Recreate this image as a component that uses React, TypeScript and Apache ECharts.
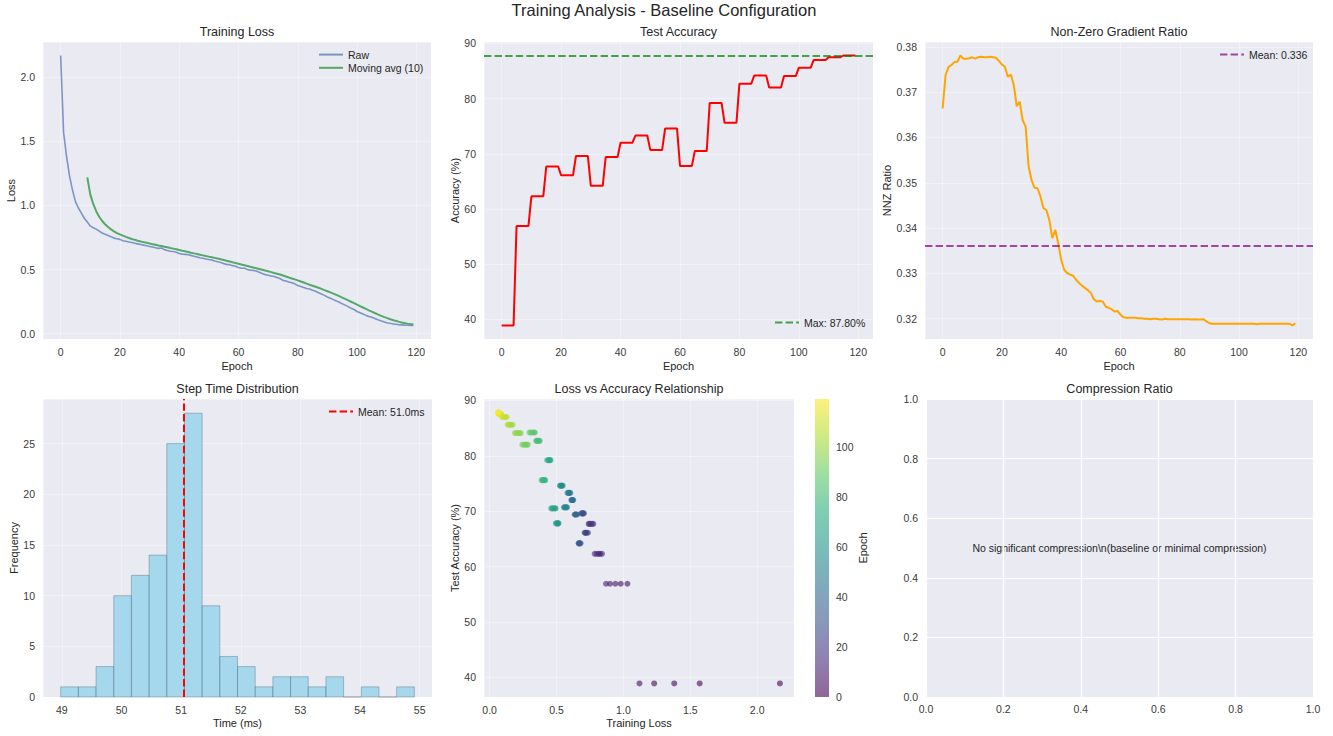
import React, { useEffect, useRef } from "react";
import * as echarts from "echarts";

// ---------------- data ----------------
const figureTitle = "Training Analysis - Baseline Configuration";
const panelTitles = [
  "Training Loss",
  "Test Accuracy",
  "Non-Zero Gradient Ratio",
  "Step Time Distribution",
  "Loss vs Accuracy Relationship",
  "Compression Ratio",
];

const rawLoss = [
  2.17, 1.57, 1.38, 1.23, 1.12, 1.03, 0.98, 0.94, 0.9, 0.87,
  0.84, 0.825, 0.815, 0.8, 0.785, 0.775, 0.765, 0.755, 0.745, 0.74,
  0.735, 0.725, 0.72, 0.715, 0.71, 0.705, 0.7, 0.695, 0.69, 0.685,
  0.68, 0.675, 0.67, 0.665, 0.668, 0.655, 0.648, 0.643, 0.64, 0.635,
  0.625, 0.62, 0.618, 0.615, 0.61, 0.603, 0.598, 0.592, 0.588, 0.582,
  0.578, 0.575, 0.566, 0.56, 0.555, 0.546, 0.54, 0.538, 0.53, 0.525,
  0.515, 0.51, 0.51, 0.5, 0.495, 0.493, 0.488, 0.478, 0.468, 0.46,
  0.455, 0.45, 0.445, 0.438, 0.43, 0.415, 0.41, 0.402, 0.396, 0.388,
  0.375, 0.368, 0.36, 0.352, 0.348, 0.338, 0.33, 0.318, 0.308, 0.298,
  0.285, 0.275, 0.265, 0.255, 0.244, 0.232, 0.222, 0.21, 0.198, 0.188,
  0.172, 0.162, 0.152, 0.142, 0.134, 0.127, 0.118, 0.108, 0.1, 0.093,
  0.085, 0.08, 0.076, 0.073, 0.07, 0.068, 0.066, 0.065, 0.063, 0.063,
];

const testAccuracy = [
  38.9, 38.9, 38.9, 38.9, 38.9, 56.9, 56.9, 56.9, 56.9, 56.9,
  62.3, 62.3, 62.3, 62.3, 62.3, 67.7, 67.7, 67.7, 67.7, 67.7,
  66.1, 66.1, 66.1, 66.1, 66.1, 69.6, 69.6, 69.6, 69.6, 69.6,
  64.2, 64.2, 64.2, 64.2, 64.2, 69.4, 69.4, 69.4, 69.4, 69.4,
  72.0, 72.0, 72.0, 72.0, 72.0, 73.3, 73.3, 73.3, 73.3, 73.3,
  70.7, 70.7, 70.7, 70.7, 70.7, 74.6, 74.6, 74.6, 74.6, 74.6,
  67.8, 67.8, 67.8, 67.8, 67.8, 70.5, 70.5, 70.5, 70.5, 70.5,
  79.2, 79.2, 79.2, 79.2, 79.2, 75.6, 75.6, 75.6, 75.6, 75.6,
  82.7, 82.7, 82.7, 82.7, 82.7, 84.2, 84.2, 84.2, 84.2, 84.2,
  82.0, 82.0, 82.0, 82.0, 82.0, 84.1, 84.1, 84.1, 84.1, 84.1,
  85.6, 85.6, 85.6, 85.6, 85.6, 87.0, 87.0, 87.0, 87.0, 87.0,
  87.5, 87.5, 87.5, 87.5, 87.5, 87.8, 87.8, 87.8, 87.8, 87.8,
];

const nnzRatio = [
  0.3664, 0.3738, 0.3756, 0.376, 0.3767, 0.3767, 0.3781, 0.3774, 0.3774, 0.3775,
  0.3777, 0.3774, 0.3777, 0.3778, 0.3777, 0.3777, 0.3778, 0.3777, 0.3776, 0.3769,
  0.3761, 0.3756, 0.3734, 0.3739, 0.3716, 0.3669, 0.3679, 0.3638, 0.3624, 0.3536,
  0.3506, 0.3489, 0.3488, 0.347, 0.3444, 0.344, 0.3418, 0.3378, 0.3396, 0.3367,
  0.333, 0.3308, 0.3301, 0.3297, 0.3295, 0.3286, 0.3279, 0.3273, 0.3268, 0.3263,
  0.3257, 0.3243, 0.3238, 0.3239, 0.3238, 0.3227, 0.3224, 0.3221, 0.3216, 0.3217,
  0.3209, 0.3203, 0.3202, 0.3202, 0.3202, 0.3202, 0.3201, 0.3201, 0.32, 0.32,
  0.3199, 0.32, 0.32, 0.3199, 0.3198, 0.32, 0.3199, 0.3199, 0.3199, 0.3199,
  0.3199, 0.3199, 0.3199, 0.3199, 0.3198, 0.3199, 0.3198, 0.3198, 0.3199, 0.3194,
  0.319, 0.3189, 0.3189, 0.3189, 0.3189, 0.3189, 0.3189, 0.3189, 0.3189, 0.3189,
  0.3189, 0.3189, 0.3189, 0.3189, 0.3189, 0.3189, 0.3188, 0.3189, 0.3189, 0.3189,
  0.3189, 0.3189, 0.3189, 0.3189, 0.3189, 0.3189, 0.3189, 0.3189, 0.3185, 0.319,
];

const stepTimeBinEdges = [
  48.98, 49.277, 49.573, 49.87, 50.166, 50.463, 50.759, 51.056, 51.352, 51.649,
  51.945, 52.242, 52.538, 52.835, 53.131, 53.428, 53.724, 54.021, 54.317, 54.614, 54.91,
];
const stepTimeCounts = [1, 1, 3, 10, 12, 14, 25, 28, 9, 4, 3, 1, 2, 2, 1, 2, 0, 1, 0, 1];

const meanStepTimeMs = 51.04;
const maxAccuracy = 87.8;
const meanNnz = 0.336;
const movingAvgWindow = 10;
const compressionMessage = "No significant compression\\n(baseline or minimal compression)";

const viridis = ["#440154", "#472d7b", "#3b528b", "#2c728e", "#21918c", "#28ae80", "#5ec962", "#addc30", "#fde725"];

// ---------------- style / layout ----------------
const FONT = '"Liberation Sans", Arial, Helvetica, sans-serif';
const TEXT = "#262626";
const TICK = "#3a3a3a";
const PANEL_BG = "#EAEAF2";
const FAINT_GRID = "rgba(255,255,255,0.35)";

const GRIDS = [
  { left: 43, top: 42, width: 388, height: 297 },
  { left: 484, top: 42, width: 389, height: 297 },
  { left: 925, top: 42, width: 388, height: 297 },
  { left: 43, top: 399, width: 389, height: 298 },
  { left: 484, top: 399, width: 310, height: 298 },
  { left: 926, top: 399, width: 387, height: 298 },
  { left: 815, top: 399, width: 14, height: 298 },
];

function padded(lo: number, hi: number): [number, number] {
  const m = (hi - lo) * 0.05;
  return [lo - m, hi + m];
}

export default function App() {
  const ref = useRef<HTMLDivElement>(null);

  useEffect(() => {
    if (!ref.current) return;
    const chart = echarts.init(ref.current, null, { renderer: "svg" });

    const epochs = rawLoss.map((_, i) => i);
    const rawSeries = epochs.map((e, i) => [e, rawLoss[i]]);
    const maSeries: number[][] = [];
    for (let i = movingAvgWindow - 1; i < rawLoss.length; i++) {
      let s = 0;
      for (let k = i - movingAvgWindow + 1; k <= i; k++) s += rawLoss[k];
      maSeries.push([epochs[i], s / movingAvgWindow]);
    }
    const accSeries = epochs.map((e, i) => [e, testAccuracy[i]]);
    const nnzSeries = epochs.map((e, i) => [e, nnzRatio[i]]);
    const histData = stepTimeCounts.map((c, i) => [stepTimeBinEdges[i], stepTimeBinEdges[i + 1], c]);
    const scatterData = epochs.map((e, i) => [rawLoss[i], testAccuracy[i], e]);

    const epochExt = padded(Math.min(...epochs), Math.max(...epochs));
    const lossExt = padded(Math.min(...rawLoss), Math.max(...rawLoss));
    const accExt = padded(Math.min(...testAccuracy), Math.max(...testAccuracy));
    const nnzExt = padded(Math.min(...nnzRatio), Math.max(...nnzRatio));
    const timeExt = padded(stepTimeBinEdges[0], stepTimeBinEdges[stepTimeBinEdges.length - 1]);
    const freqMax = Math.max(...stepTimeCounts) * 1.05;

    const nameStyle = { fontSize: 11, color: TEXT, fontFamily: FONT };
    const labelBase = { fontSize: 10.5, color: TICK, fontFamily: FONT };

    const valAxis = (o: any) => {
      const { step, fmt, hideMin, hideMax, strongGrid, labelMargin, ...rest } = o;
      return {
        type: "value",
        minInterval: step,
        maxInterval: step,
        nameLocation: "middle",
        nameTextStyle: nameStyle,
        axisLine: { show: false },
        axisTick: { show: false },
        axisLabel: {
          ...labelBase,
          margin: labelMargin ?? 7,
          showMinLabel: hideMin ? false : null,
          showMaxLabel: hideMax ? false : null,
          formatter: fmt ? (v: number) => v.toFixed(fmt) : undefined,
        },
        splitLine: {
          show: true,
          lineStyle: { color: strongGrid ? "#ffffff" : FAINT_GRID, width: strongGrid ? 1.2 : 1 },
        },
        ...rest,
      };
    };

    const xAxis = [
      valAxis({ gridIndex: 0, min: epochExt[0], max: epochExt[1], step: 20, hideMin: true, hideMax: true, name: "Epoch", nameGap: 21 }),
      valAxis({ gridIndex: 1, min: epochExt[0], max: epochExt[1], step: 20, hideMin: true, hideMax: true, name: "Epoch", nameGap: 21 }),
      valAxis({ gridIndex: 2, min: epochExt[0], max: epochExt[1], step: 20, hideMin: true, hideMax: true, name: "Epoch", nameGap: 21 }),
      valAxis({ gridIndex: 3, min: timeExt[0], max: timeExt[1], step: 1, hideMin: true, hideMax: true, name: "Time (ms)", nameGap: 20 }),
      valAxis({ gridIndex: 4, min: lossExt[0], max: lossExt[1], step: 0.5, fmt: 1, hideMin: true, hideMax: true, name: "Training Loss", nameGap: 20 }),
      valAxis({ gridIndex: 5, min: 0, max: 1, step: 0.2, interval: 0.2, fmt: 1, strongGrid: true, labelMargin: 6 }),
      { type: "value", gridIndex: 6, min: 0, max: 1, show: false },
    ];

    const yAxis = [
      valAxis({ gridIndex: 0, min: lossExt[0], max: lossExt[1], step: 0.5, fmt: 1, hideMin: true, hideMax: true, name: "Loss", nameGap: 25, labelMargin: 8 }),
      valAxis({ gridIndex: 1, min: accExt[0], max: accExt[1], step: 10, hideMin: true, hideMax: true, name: "Accuracy (%)", nameGap: 23, labelMargin: 8 }),
      valAxis({ gridIndex: 2, min: nnzExt[0], max: nnzExt[1], step: 0.01, fmt: 2, hideMin: true, hideMax: true, name: "NNZ Ratio", nameGap: 31, labelMargin: 8 }),
      valAxis({ gridIndex: 3, min: 0, max: freqMax, step: 5, interval: 5, hideMax: true, name: "Frequency", nameGap: 24, labelMargin: 8 }),
      valAxis({ gridIndex: 4, min: accExt[0], max: accExt[1], step: 10, hideMin: true, hideMax: true, name: "Test Accuracy (%)", nameGap: 23, labelMargin: 8 }),
      valAxis({ gridIndex: 5, min: 0, max: 1, step: 0.2, interval: 0.2, fmt: 1, strongGrid: true, labelMargin: 8 }),
      {
        type: "value",
        gridIndex: 6,
        position: "right",
        min: 0,
        max: Math.max(...epochs),
        interval: 20,
        name: "Epoch",
        nameLocation: "middle",
        nameGap: 27,
        nameRotate: 90,
        nameTextStyle: nameStyle,
        axisLine: { show: false },
        axisTick: { show: false },
        splitLine: { show: false },
        axisLabel: { ...labelBase, margin: 7, showMaxLabel: false },
      },
    ];

    const dashed = [7.4, 3.2];
    const refLine = (name: string, xi: number, color: string, ml: any) => ({
      type: "line",
      name,
      xAxisIndex: xi,
      yAxisIndex: xi,
      data: [],
      symbol: "none",
      itemStyle: { color },
      lineStyle: { color, width: 2, type: dashed },
      markLine: {
        silent: true,
        precision: 6,
        symbol: ["none", "none"],
        label: { show: false },
        lineStyle: { color, width: 2, type: dashed },
        data: [ml],
      },
    });

    const series: any[] = [
      {
        type: "line", name: "Raw", xAxisIndex: 0, yAxisIndex: 0, data: rawSeries,
        symbol: "none", itemStyle: { color: "rgba(76,114,176,0.7)" },
        lineStyle: { color: "rgba(76,114,176,0.7)", width: 1.6 },
      },
      {
        type: "line", name: `Moving avg (${movingAvgWindow})`, xAxisIndex: 0, yAxisIndex: 0, data: maSeries,
        symbol: "none", itemStyle: { color: "#55A868" }, lineStyle: { color: "#55A868", width: 2 },
      },
      {
        type: "line", name: "Test Accuracy", xAxisIndex: 1, yAxisIndex: 1, data: accSeries,
        symbol: "none", itemStyle: { color: "#FF0000" }, lineStyle: { color: "#FF0000", width: 2 },
      },
      refLine(`Max: ${maxAccuracy.toFixed(2)}%`, 1, "rgba(0,128,0,0.7)", { yAxis: maxAccuracy }),
      {
        type: "line", name: "NNZ", xAxisIndex: 2, yAxisIndex: 2, data: nnzSeries,
        symbol: "none", itemStyle: { color: "#FFA500" }, lineStyle: { color: "#FFA500", width: 2 },
      },
      refLine(`Mean: ${meanNnz.toFixed(3)}`, 2, "rgba(128,0,128,0.7)", { yAxis: meanNnz }),
      {
        type: "custom", name: "Step time", xAxisIndex: 3, yAxisIndex: 3, data: histData,
        encode: { x: [0, 1], y: 2 },
        renderItem: (params: any, api: any) => {
          const p0 = api.coord([api.value(0), 0]);
          const p1 = api.coord([api.value(1), api.value(2)]);
          return {
            type: "rect",
            shape: { x: p0[0], y: p1[1], width: p1[0] - p0[0], height: p0[1] - p1[1] },
            style: { fill: "rgba(135,206,235,0.7)", stroke: "rgba(60,85,100,0.38)", lineWidth: 0.9 },
          };
        },
      },
      refLine(`Mean: ${meanStepTimeMs.toFixed(1)}ms`, 3, "#FF0000", { xAxis: meanStepTimeMs }),
      {
        type: "scatter", name: "Loss vs Acc", xAxisIndex: 4, yAxisIndex: 4, data: scatterData,
        symbolSize: 6, itemStyle: { opacity: 0.6 },
      },
      { type: "scatter", xAxisIndex: 5, yAxisIndex: 5, data: [] },
      {
        type: "custom", name: "colorbar", xAxisIndex: 6, yAxisIndex: 6, data: [[0, 0]],
        renderItem: (params: any, api: any) => {
          const a = api.coord([0, 0]);
          const b = api.coord([1, Math.max(...epochs)]);
          return {
            type: "rect",
            shape: { x: a[0], y: b[1], width: b[0] - a[0], height: a[1] - b[1] },
            style: {
              fill: new echarts.graphic.LinearGradient(0, 1, 0, 0,
                viridis.map((c, i) => ({ offset: i / (viridis.length - 1), color: c }))),
              opacity: 0.6,
            },
          };
        },
      },
    ];

    const legendBase = {
      orient: "vertical", itemWidth: 24, itemHeight: 14, itemGap: 2, padding: 0,
      selectedMode: false, textStyle: { fontSize: 10.5, color: TEXT, fontFamily: FONT },
      itemStyle: { color: "transparent", borderColor: "transparent", borderWidth: 0, opacity: 0 },
    };

    const centers = GRIDS.slice(0, 6).map((g) => g.left + g.width / 2);
    const titleY = [31.5, 31.5, 31.5, 388.5, 388.5, 388.5];
    const textEl = (text: string, x: number, y: number, size: number) => ({
      type: "text", x, y, silent: true,
      style: {
        text, fill: TEXT, fontSize: size, fontFamily: FONT,
        align: "center", verticalAlign: "middle", textAlign: "center", textVerticalAlign: "middle",
      },
    });

    const option: any = {
      animation: false,
      backgroundColor: "#ffffff",
      textStyle: { fontFamily: FONT },
      grid: GRIDS.map((g, i) => ({
        ...g,
        show: i < 6,
        backgroundColor: PANEL_BG,
        borderWidth: 0,
        containLabel: false,
      })),
      xAxis,
      yAxis,
      visualMap: [{
        type: "continuous", show: false, seriesIndex: 8, dimension: 2,
        min: 0, max: Math.max(...epochs), inRange: { color: viridis },
      }],
      legend: [
        { ...legendBase, data: ["Raw", `Moving avg (${movingAvgWindow})`], left: 318, top: 49 },
        { ...legendBase, data: [`Max: ${maxAccuracy.toFixed(2)}%`], left: 774, top: 317 },
        { ...legendBase, data: [`Mean: ${meanNnz.toFixed(3)}`], left: 1219, top: 49 },
        { ...legendBase, data: [`Mean: ${meanStepTimeMs.toFixed(1)}ms`], left: 328, top: 406 },
      ],
      graphic: [
        textEl(figureTitle, 664, 10, 16.5),
        ...panelTitles.map((t, i) => textEl(t, centers[i], titleY[i], 12.5)),
        textEl(compressionMessage, centers[5], GRIDS[5].top + GRIDS[5].height / 2, 10.5),
      ],
      series,
    };

    chart.setOption(option);
    return () => chart.dispose();
  }, []);

  return (
    <div
      ref={ref}
      style={{ position: "fixed", left: 0, top: 0, width: 1333, height: 736, background: "#fff" }}
    />
  );
}
